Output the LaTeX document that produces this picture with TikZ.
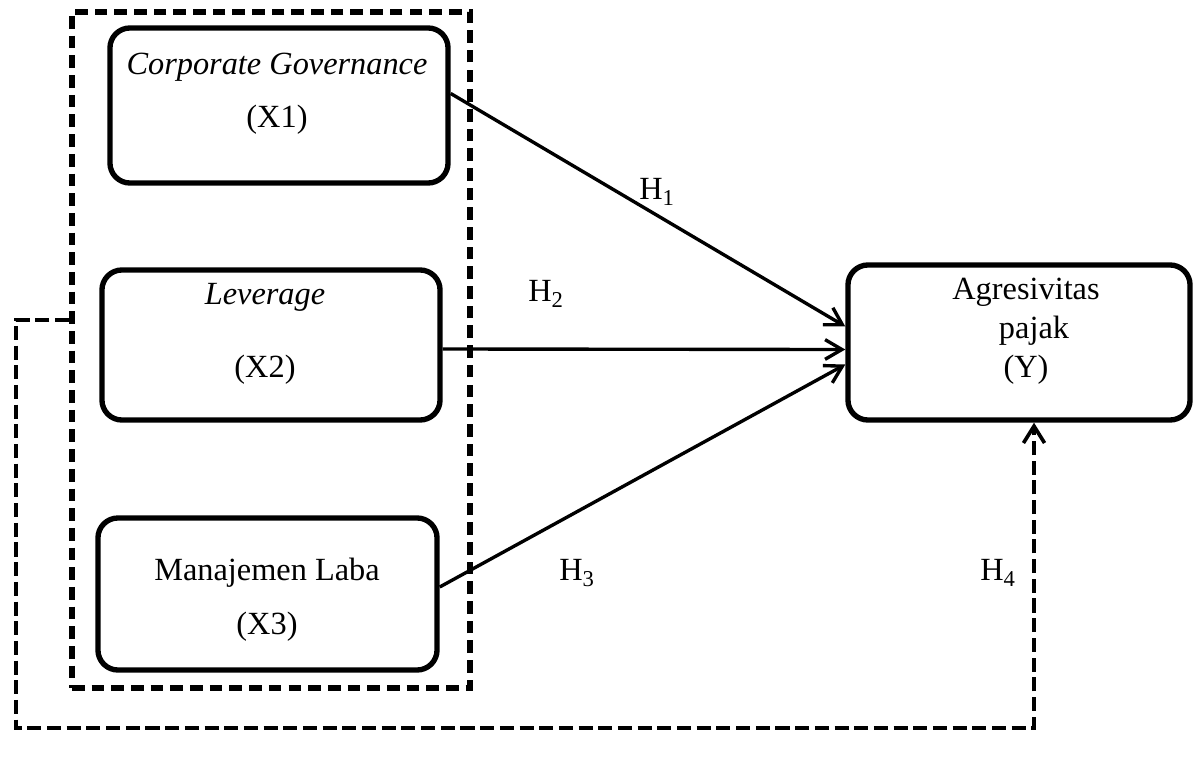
\documentclass[tikz,border=0pt]{standalone}
\usepackage{fontspec}
\setmainfont{Liberation Serif}
\usetikzlibrary{arrows.meta, calc, positioning}
\tikzstyle{block} = [rectangle, rounded corners=0.5cm, line width=3.8pt, minimum width=8.45cm, minimum height=3.8cm, draw=black]
\tikzstyle{group} = [rectangle, line width=4pt, dash pattern=on 9pt off 5pt, minimum width=9.95cm, minimum height=16.9cm, draw=black]
\tikzstyle{arrow} = [line width=2.4pt, -{Straight Barb[length=12pt, width=14pt, line width=2.4pt]}]
\tikzstyle{feedback} = [line width=3.2pt, dash pattern=on 10pt off 4pt, -{Straight Barb[length=12pt, width=15pt, line width=2.6pt]}]

\begin{document}
\begin{tikzpicture}[x=0.025cm, y=-0.025cm, font=\fontsize{23}{27.6}\selectfont]
		\useasboundingbox (0,0) rectangle (1194,762);
		\node (Independent) [group] at (271,350) {};
		\node (CorpGov) [block, minimum height=3.875cm] at (279,105.5) {};
		\node (Lev) [block, minimum height=3.75cm] at (271,345) {};
		\node (ManLaba) [block, minimum width=8.475cm] at (267.5,594) {};
		\node (AgPajak) [block, minimum width=8.55cm, minimum height=3.875cm] at (1019,342.5) {};
		\node (CorpGovText) [align=center] at (277,93.5) {\textit{Corporate Governance}\\[0.35cm](X1)};
		\node (LevText) [align=center] at (265,333.5) {\textit{Leverage}\\[0.85cm](X2)};
		\node (ManLabaText) [align=center] at (267,600) {Manajemen Laba\\[0.375cm](X3)};
		\node (AgPajakText) [align=center] at (1026,331) {Agresivitas\\\hspace*{0.4cm}pajak\\(Y)};
		\node (Hyp1) at (657,192) {H\textsubscript{1}};
		\node (Hyp2) at (546,294) {H\textsubscript{2}};
		\node (Hyp3) at (577,573) {H\textsubscript{3}};
		\node (Hyp4) at (998,573) {H\textsubscript{4}};
		\coordinate (FeedCorner) at (16,728);
		\draw [arrow] ([yshift=0.3cm]CorpGov.east) -- ([yshift=0.4cm]AgPajak.west);
		\draw [arrow] ([yshift=-0.1cm]Lev.east) -- ([yshift=-0.175cm]AgPajak.west);
		\draw [arrow] ([yshift=0.175cm]ManLaba.east) -- ([yshift=-0.55cm]AgPajak.west);
		\draw [feedback] ([yshift=0.75cm]Independent.west) -| (FeedCorner) -| ([xshift=0.375cm]AgPajak.south);
\end{tikzpicture}
\end{document}
